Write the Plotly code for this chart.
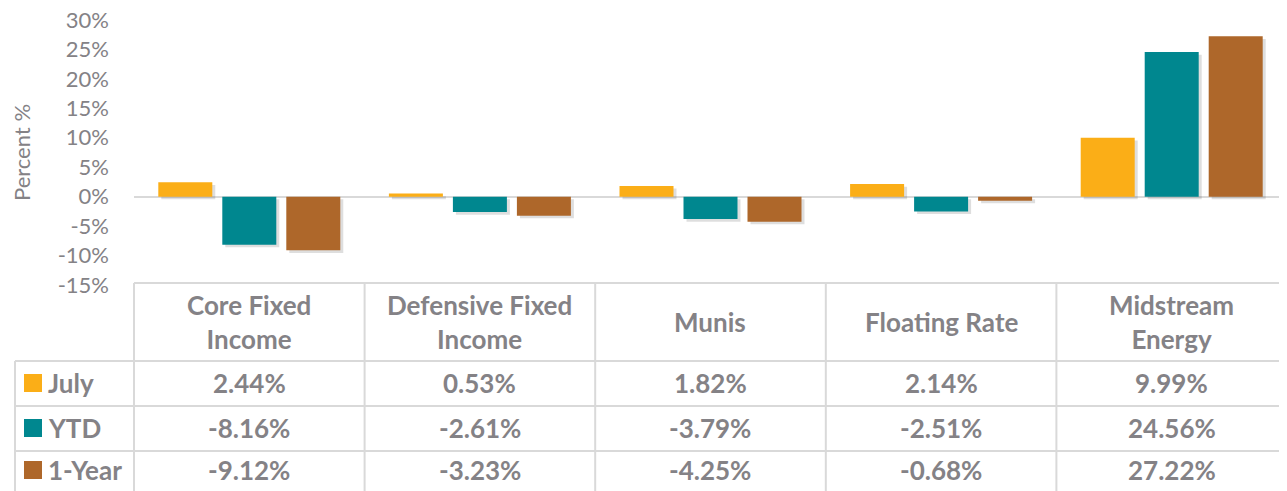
import plotly.graph_objects as go

categories = ["Core Fixed Income", "Defensive Fixed Income", "Munis", "Floating Rate", "Midstream Energy"]
header_labels = ["Core Fixed<br>Income", "Defensive Fixed<br>Income", "Munis", "Floating Rate", "Midstream<br>Energy"]
series_names = ["July", "YTD", "1-Year"]
july = [2.44, 0.53, 1.82, 2.14, 9.99]
ytd = [-8.16, -2.61, -3.79, -2.51, 24.56]
one_year = [-9.12, -3.23, -4.25, -0.68, 27.22]
y_ticks = [-15, -10, -5, 0, 5, 10, 15, 20, 25, 30]

series_values = [july, ytd, one_year]
colors = ["#FBAE17", "#00878F", "#AE672A"]

# page body has an 8px margin; design in window pixels and shift
OFF = 8
W, H = 1287 - OFF, 491 - OFF
FONT = "Lato"
GRAY = "#848286"
GRID = "#D9D9D9"

plot_left, plot_right = 134, 1287
plot_top, plot_bottom = 20, 285


def px(x):
    return (x - OFF) / W


def py(y):
    return 1 - (y - OFF) / H


n = len(categories)
cat_px = (plot_right - plot_left) / n
bar_w = 54 / cat_px
step = 64 / cat_px
offsets = [-step, 0, step]

fig = go.Figure()

# soft drop shadows
for k, vals in enumerate(series_values):
    fig.add_trace(go.Bar(
        x=categories, y=vals, base=[-0.45] * n,
        width=[bar_w] * n, offset=[offsets[k] - bar_w / 2 + 3 / cat_px] * n,
        marker=dict(color="rgba(0,0,0,0.13)", line=dict(width=0)),
        showlegend=False, hoverinfo="skip",
    ))

for k, vals in enumerate(series_values):
    fig.add_trace(go.Bar(
        x=categories, y=vals, name=series_names[k],
        width=[bar_w] * n, offset=[offsets[k] - bar_w / 2] * n,
        marker=dict(color=colors[k], line=dict(width=0)),
        showlegend=False,
    ))

shapes = []
line = dict(color=GRID, width=2)
shapes.append(dict(type="line", xref="paper", yref="paper", x0=px(plot_left), x1=1, y0=py(283), y1=py(283), line=line))
for yy in [361, 406, 451]:
    shapes.append(dict(type="line", xref="paper", yref="paper", x0=px(15), x1=1, y0=py(yy), y1=py(yy), line=line))
shapes.append(dict(type="line", xref="paper", yref="paper", x0=px(15), x1=px(15), y0=py(361), y1=0, line=line))
for i in range(n + 1):
    xx = plot_left + i * cat_px
    shapes.append(dict(type="line", xref="paper", yref="paper", x0=px(xx), x1=px(xx), y0=py(283), y1=0, line=line))

annotations = []
for i, lab in enumerate(header_labels):
    cx = plot_left + (i + 0.5) * cat_px
    annotations.append(dict(x=px(cx), y=py(322), xref="paper", yref="paper", text="<b>" + lab + "</b>",
                            showarrow=False, xanchor="center", yanchor="middle",
                            font=dict(family=FONT, size=26, color=GRAY)))

row_centers = [383, 428, 470]
for k, vals in enumerate(series_values):
    ry = row_centers[k]
    shapes.append(dict(type="rect", xref="paper", yref="paper", x0=px(24), x1=px(42),
                       y0=py(ry - 9), y1=py(ry + 9), fillcolor=colors[k], line=dict(width=0)))
    annotations.append(dict(x=px(46), y=py(ry), xref="paper", yref="paper", text="<b>" + series_names[k] + "</b>",
                            showarrow=False, xanchor="left", yanchor="middle",
                            font=dict(family=FONT, size=26, color=GRAY)))
    for i, v in enumerate(vals):
        cx = plot_left + (i + 0.5) * cat_px
        annotations.append(dict(x=px(cx), y=py(ry), xref="paper", yref="paper", text="<b>%.2f%%</b>" % v,
                                showarrow=False, xanchor="center", yanchor="middle",
                                font=dict(family=FONT, size=26, color=GRAY)))

fig.update_layout(
    width=W, height=H,
    margin=dict(l=0, r=0, t=0, b=0, autoexpand=False),
    paper_bgcolor="white", plot_bgcolor="white",
    barmode="overlay",
    shapes=shapes, annotations=annotations,
    xaxis=dict(domain=[px(plot_left), 1], range=[-0.5, n - 0.5], showticklabels=False,
               showgrid=False, zeroline=False, showline=False, ticks="", automargin=False),
    yaxis=dict(domain=[py(plot_bottom), py(plot_top)], range=[-15, 30], tickvals=y_ticks,
               ticktext=["%d%%" % t for t in y_ticks], showgrid=False, automargin=False,
               zeroline=True, zerolinecolor=GRID, zerolinewidth=2, showline=False, ticks="",
               ticklabelstandoff=24, ticklabeloverflow="allow",
               tickfont=dict(family=FONT, size=22, color=GRAY),
               title=dict(text="Percent %", font=dict(family=FONT, size=22, color=GRAY), standoff=22)),
)

fig.write_html("out.html")
